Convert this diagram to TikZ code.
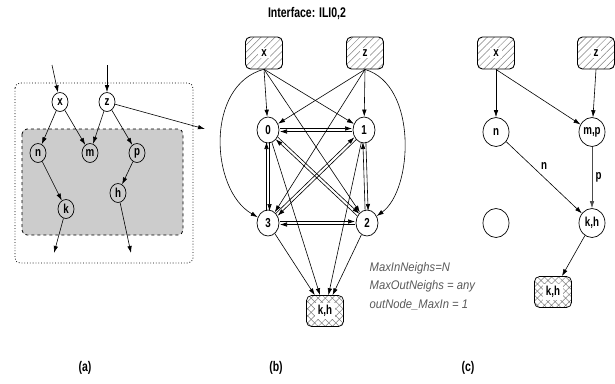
\documentclass[tikz,border=0pt]{standalone}
\usepackage{fontspec}
\setmainfont{Liberation Sans}[FakeStretch=0.75]
\newfontfamily\notefont{Liberation Sans}[FakeStretch=0.9]
\usetikzlibrary{calc,shapes.geometric,arrows.meta,patterns.meta}

\tikzset{
  arr/.style={-{Latex[length=7pt,width=4.5pt]}},
  vtx/.style={draw,line width=0.7pt,ellipse,inner sep=0pt,font=\bfseries\fontsize{13}{14}\selectfont},
  smallv/.style={vtx,minimum width=16pt,minimum height=19pt},
  midv/.style={vtx,minimum width=22pt,minimum height=26pt},
  bigv/.style={vtx,minimum width=26pt,minimum height=29pt},
  lbl/.style={label={[fill=white,inner xsep=3pt,inner ysep=2pt,font=\bfseries\fontsize{13}{14}\selectfont]center:{#1}}},
  ifbox/.style={draw,line width=0.9pt,rounded corners=5pt,minimum width=37pt,minimum height=32pt,
    pattern={Lines[angle=45,distance=5pt,line width=0.5pt]},pattern color=gray,lbl={#1}},
  outbox/.style={draw,line width=0.7pt,rounded corners=5pt,minimum width=37pt,minimum height=31pt,
    pattern={Hatch[angle=45,distance=5pt,line width=0.5pt]},pattern color=gray,lbl={#1}},
  captext/.style={font=\bfseries\fontsize{14}{16}\selectfont},
}

\begin{document}
\begin{tikzpicture}[x=1pt,y=-1pt,line width=0.6pt]
  \useasboundingbox (0,0) rectangle (615,383);

  % (a) the region and its graph
  \draw[line width=0.8pt,dotted,rounded corners=5pt] (15,83) rectangle (193,263);
  \draw[line width=0.8pt,dashed,fill=gray!40,rounded corners=5pt] (22,129) rectangle (183,235);
  \node[smallv] (ax) at (60,102) {x};
  \node[smallv] (az) at (107,102) {z};
  \node[smallv] (an) at (38,153) {n};
  \node[smallv] (am) at (90,153) {m};
  \node[smallv] (ap) at (137,153) {p};
  \node[smallv] (ak) at (66,209) {k};
  \node[smallv] (ah) at (118,193) {h};
  \coordinate (ain1) at (52,65);
  \coordinate (ain2) at (107,65);
  \coordinate (aout1) at (54,253);
  \coordinate (aout2) at (131,253);
  \coordinate (aout3) at (205,129);
  \draw[arr] (ain1) -- (ax);
  \draw[arr] (ain2) -- (az);
  \draw[arr] (ax) -- (an);
  \draw[arr] (ax) -- (am);
  \draw[arr] (az) -- (am);
  \draw[arr] (az) -- (ap);
  \draw[arr] (an) -- (ak);
  \draw[arr] (ap) -- (ah);
  \draw[arr] (ak) -- (aout1);
  \draw[arr] (ah) -- (aout2);
  \draw[arr] (az) -- (aout3);

  % (b) interface graph
  \node[captext] (title) at (307,14) {Interface: ILI0,2};
  \node[ifbox=x] (bx) at (264,53) {};
  \node[ifbox=z] (bz) at (365,53) {};
  \node[midv] (b0) at (268,130) {0};
  \node[midv] (b1) at (364,130) {1};
  \node[midv] (b3) at (268,223) {3};
  \node[midv] (b2) at (367,223) {2};
  \node[outbox={k,h}] (bkh) at (325,311) {};
  \foreach \s/\t in {bx/b0,bx/b1,bx/b2,bz/b0,bz/b1,bz/b3}
    \draw[arr] (\s.south) -- (\t);
  \draw[arr] (bx.south) .. controls (205,85) and (210,190) .. (b3);
  \draw[arr] (bz.south) .. controls (418,85) and (413,190) .. (b2);
  \foreach \a/\b in {b0/b1,b0/b3,b1/b2,b3/b2,b0/b2,b1/b3} {
    \draw[arr,shorten <=12pt,shorten >=12pt]
      ($(\a.center)!1.5pt!90:(\b.center)$) -- ($(\b.center)!1.5pt!-90:(\a.center)$);
    \draw[arr,shorten <=12pt,shorten >=12pt]
      ($(\b.center)!1.5pt!90:(\a.center)$) -- ($(\a.center)!1.5pt!-90:(\b.center)$);
  }
  \foreach \s in {b0,b1,b2,b3}
    \draw[arr] (\s) -- (bkh);
  \node[anchor=west,font=\notefont\itshape\fontsize{12.5}{18.5}\selectfont,text=gray!70!black,align=left]
    (notes) at (366,286) {MaxInNeighs=N\\MaxOutNeighs = any\\outNode\_MaxIn = 1};

  % (c) reduced graph
  \node[ifbox=x] (cx) at (496,53) {};
  \node[ifbox=z] (cz) at (596,53) {};
  \node[bigv] (cn) at (496,132) {n};
  \node[bigv] (cmp) at (592,132) {m,p};
  \node[bigv] (ce) at (496,223) {};
  \node[bigv] (ckh) at (592,223) {k,h};
  \node[outbox={k,h}] (ckhb) at (553,292) {};
  \draw[arr] (cx.south) -- (cn);
  \draw[arr] (cx.south) -- (cmp);
  \draw[arr] (cz.south) -- (cmp);
  \draw[arr] (cn) -- node[pos=0.5,above=4pt,font=\bfseries\fontsize{13}{14}\selectfont] {n} (ckh);
  \draw[arr,draw=gray!60!black] (cmp) -- node[right,font=\bfseries\fontsize{13}{14}\selectfont] {p} (ckh);
  \draw[arr] (ckh) -- (ckhb);

  % captions
  \node[captext] (capa) at (85,368) {(a)};
  \node[captext] (capb) at (276,368) {(b)};
  \node[captext] (capc) at (468,368) {(c)};
\end{tikzpicture}
\end{document}
